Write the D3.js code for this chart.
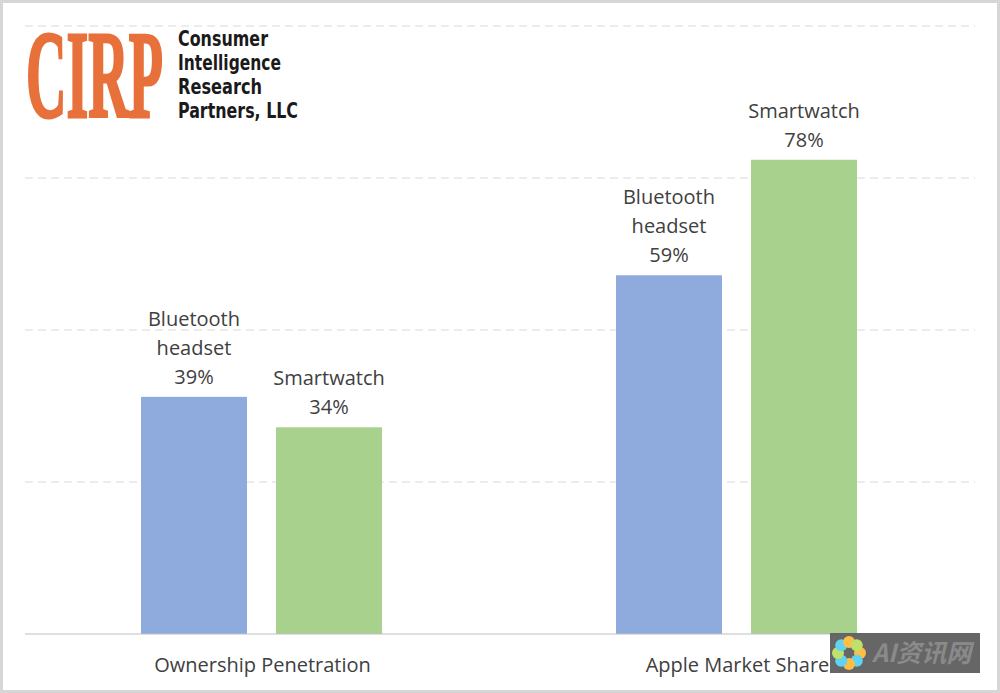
<!DOCTYPE html>
<html>
<head>
<meta charset="utf-8">
<script src="https://cdn.jsdelivr.net/npm/d3@7"></script>
<style>
  body { margin: 0; background: #fff; }
  svg { display: block; }
</style>
</head>
<body>
<svg id="chart" width="1000" height="693"></svg>
<script>
'use strict';
// chart values
const categories = ["Ownership Penetration", "Apple Market Share"];
const seriesNames = ["Bluetooth headset", "Smartwatch"];
const seriesLines = [["Bluetooth", "headset"], ["Smartwatch"]];
const bluetooth = [39, 59];
const smartwatch = [34, 78];
const gridTicks = [25, 50, 75, 100];

const seriesValues = [bluetooth, smartwatch];
const colors = ["#8faadc", "#a9d18e"];
const textColor = "#404040";
const labelFont = "'Open Sans', 'Noto Sans', sans-serif";

const width = 1000, height = 693;
const svg = d3.select("#chart");

// gray frame round the picture
svg.append("rect")
  .attr("x", 1.5).attr("y", 1.5)
  .attr("width", width - 3).attr("height", height - 3)
  .attr("fill", "#fff")
  .attr("stroke", "#d6d6d6")
  .attr("stroke-width", 3);

const x0 = d3.scaleBand().domain(categories).range([25, 975]);
const x1 = d3.scaleBand().domain(seriesNames).range([116, 357]).paddingInner(0.215);
const y = d3.scaleLinear().domain([0, 100]).range([634, 26]);

// dashed grid lines
svg.append("g")
  .selectAll("line").data(gridTicks).join("line")
  .attr("x1", 25).attr("x2", 975)
  .attr("y1", d => y(d)).attr("y2", d => y(d))
  .attr("stroke", "#d9d9d9")
  .attr("stroke-width", 1.2)
  .attr("stroke-dasharray", "8,5");

// bars
const rows = [];
categories.forEach((c, i) => {
  seriesNames.forEach((s, j) => {
    rows.push({ cat: c, ser: s, j: j, value: seriesValues[j][i] });
  });
});

svg.append("g")
  .selectAll("rect").data(rows).join("rect")
  .attr("x", d => x0(d.cat) + x1(d.ser))
  .attr("y", d => y(d.value))
  .attr("width", x1.bandwidth())
  .attr("height", d => y(0) - y(d.value))
  .attr("fill", d => colors[d.j]);

// base line
svg.append("line")
  .attr("x1", 25).attr("x2", 975)
  .attr("y1", y(0)).attr("y2", y(0))
  .attr("stroke", "#bfbfbf")
  .attr("stroke-width", 1.2);

// data labels above the bars
const lineH = 29;
const labels = svg.append("g")
  .attr("font-family", labelFont)
  .attr("font-size", 20)
  .attr("fill", textColor)
  .attr("text-anchor", "middle");

rows.forEach(d => {
  const lines = seriesLines[d.j].concat([d.value + "%"]);
  const cx = x0(d.cat) + x1(d.ser) + x1.bandwidth() / 2;
  const bottom = y(d.value) - 13;
  labels.append("text")
    .selectAll("tspan").data(lines).join("tspan")
    .attr("x", cx)
    .attr("y", (t, k) => bottom - (lines.length - 1 - k) * lineH)
    .text(t => t);
});

// category axis labels
svg.append("g")
  .selectAll("text").data(categories).join("text")
  .attr("x", d => x0(d) + x0.bandwidth() / 2)
  .attr("y", 672)
  .attr("text-anchor", "middle")
  .attr("font-family", labelFont)
  .attr("font-size", 20)
  .attr("fill", textColor)
  .text(d => d);

// CIRP logo
const logo = svg.append("g");
logo.append("text")
  .attr("x", 26).attr("y", 117)
  .attr("font-family", "'Liberation Serif', 'DejaVu Serif', serif")
  .attr("font-weight", "bold")
  .attr("font-size", 124)
  .attr("textLength", 137)
  .attr("lengthAdjust", "spacingAndGlyphs")
  .attr("fill", "#e8703a")
  .attr("stroke", "#e8703a")
  .attr("stroke-width", 3)
  .text("CIRP");

// company name, one text block with a line per tspan
const logoLines = ["Consumer", "Intelligence", "Research", "Partners, LLC"];
const logoWidths = [90, 103, 84, 120];
logo.append("text")
  .attr("font-family", "'DejaVu Sans Condensed', 'Liberation Sans', sans-serif")
  .attr("font-weight", "bold")
  .attr("font-size", 22)
  .attr("fill", "#1a1a1a")
  .selectAll("tspan")
  .data(logoLines)
  .join("tspan")
  .attr("x", 178)
  .attr("y", (d, i) => 46 + i * 24)
  .attr("textLength", (d, i) => logoWidths[i])
  .attr("lengthAdjust", "spacingAndGlyphs")
  .text(d => d);

// watermark in the corner
const wm = svg.append("g");
wm.append("rect")
  .attr("x", 830).attr("y", 633)
  .attr("width", 150).attr("height", 40)
  .attr("fill", "#5e5e5e")
  .attr("opacity", 0.95);
const petals = ["#fbbf45", "#5fd3f3", "#fbbf45", "#5fd3f3", "#bfe06a", "#5fd3f3", "#fbbf45", "#bfe06a"];
wm.append("g")
  .attr("transform", "translate(849,653)")
  .selectAll("circle").data(petals).join("circle")
  .attr("cx", (d, i) => 11 * Math.cos(i * Math.PI / 4))
  .attr("cy", (d, i) => 11 * Math.sin(i * Math.PI / 4))
  .attr("r", 6)
  .attr("fill", d => d);
wm.append("text")
  .attr("x", 872).attr("y", 662)
  .attr("font-family", "'Noto Sans CJK SC', sans-serif")
  .attr("font-weight", "bold")
  .attr("font-style", "italic")
  .attr("font-size", 25)
  .attr("fill", "#8a8a8a")
  .text("AI资讯网");
</script>
</body>
</html>
